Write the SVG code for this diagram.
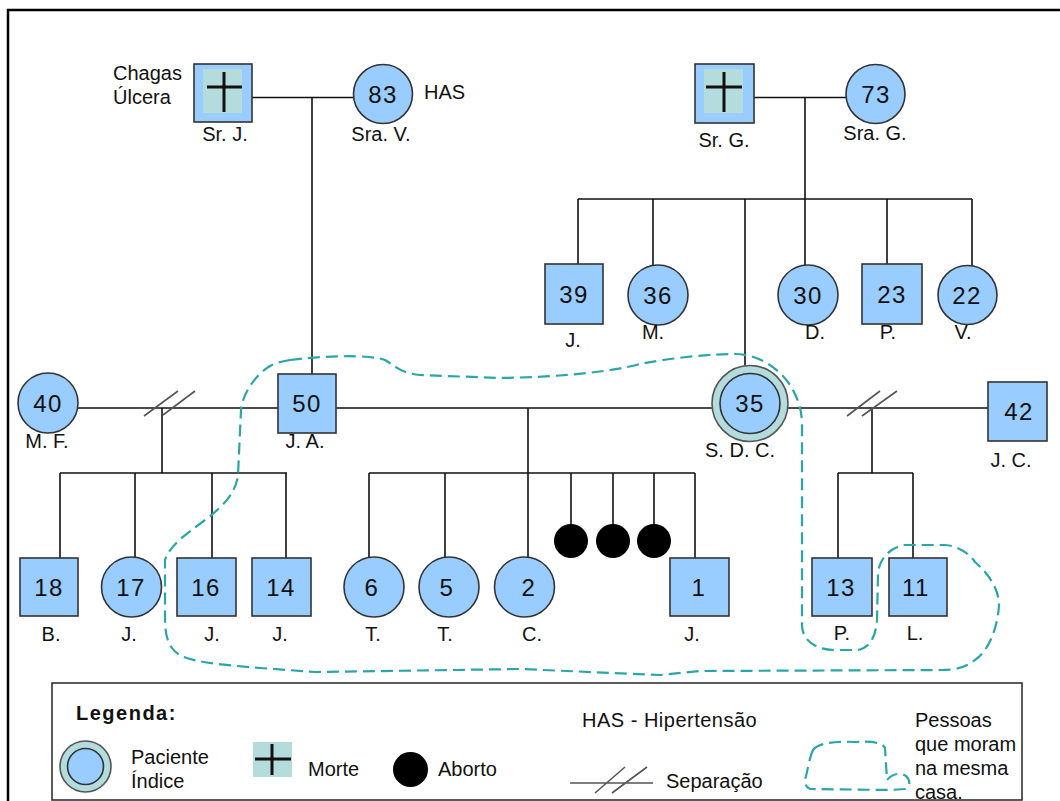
<svg xmlns="http://www.w3.org/2000/svg" width="1060" height="801" viewBox="0 0 1060 801">
<defs>
<style>
.ln{stroke:#111;stroke-width:1.6;fill:none}
.sep{stroke:#555;stroke-width:1.6;fill:none}
.nd{fill:#99ccff;stroke:#333;stroke-width:1.6}
.teal{fill:#b4dcdc}
.ring{fill:#b4dcdc;stroke:#555;stroke-width:1.6}
.cross{stroke:#111;stroke-width:3;fill:none}
.ab{fill:#000}
.num{font-family:"Liberation Sans",Arial,sans-serif;font-size:24px;letter-spacing:1.5px;text-anchor:middle;fill:#111}
.lbl{font-family:"Liberation Sans",Arial,sans-serif;font-size:20px;text-anchor:middle;fill:#111}
.txt{font-family:"Liberation Sans",Arial,sans-serif;font-size:20px;fill:#111}
.dash{stroke:#2aa6a6;stroke-width:2.2;fill:none;stroke-dasharray:12 6}
</style>
</defs>
<rect x="0" y="0" width="1060" height="801" fill="#fff"/>
<path d="M8 802 V10 H1062" fill="none" stroke="#000" stroke-width="2.5"/>

<g id="connectors">
<path class="ln" d="M252 97.5 H354 M312 97.5 V374 M754 97.5 H846 M805 97.5 V265"/>
<path class="ln" d="M578 199 H972 M578 199 V264 M653 199 V266 M745 199 V365.5 M887 199 V264 M972 199 V266"/>
<path class="ln" d="M78 408 H278 M336 408 H712 M788 408 H988"/>
<path class="ln" d="M162 408 V473 M60 473 H287 M60 473 V558 M135 473 V557 M212 473 V558 M286 473 V558"/>
<path class="ln" d="M528 408 V557 M369 473 H695 M369 473 V557.6 M445 473 V557.3 M571 473 V524 M613 473 V524 M654 473 V524 M695 473 V558"/>
<path class="ln" d="M872 408 V473 M838 473 H913 M838 473 V558 M913 473 V558"/>
<path class="sep" d="M144 416 L178 391 M163 415 L195 391 M847 416 L880 391 M862 416 L897 391"/>
</g>

<g id="household">
<path class="dash" d="M290 360 C320 356 370 354 385 360 C395 366 400 373 420 375 L500 378 C560 377 610 372 640 364 C670 358 710 354 735 354 C760 354 780 370 790 385 C798 398 802 410 802 425 L802 625 C802 640 815 650 835 650 L858 650 C870 648 876 636 877 620 L878 575 C878 560 890 547 905 545 L945 545 C960 546 970 555 975 562 C990 575 999 590 999 605 C998 625 990 650 975 660 C965 668 955 670 940 670 L700 671 L660 675 L520 669 L315 672 L260 668 C200 663 180 660 172 648 C166 640 165 630 165 615 L165 560 C170 545 185 535 205 520 C225 505 236 492 238 475 L241 410 C242 395 255 375 270 366 C278 362 284 361 290 360 Z"/>
</g>

<g id="sr-j">
<rect class="nd" x="194" y="64" width="58" height="58"/>
<rect class="teal" x="203" y="69" width="39" height="44"/>
<path class="cross" d="M224 72 V112 M207 87 H242"/>
<text class="lbl" x="225" y="141">Sr. J.</text>
<text class="txt" x="113" y="80">Chagas</text>
<text class="txt" x="113" y="104">Úlcera</text>
</g>
<g id="sra-v">
<circle class="nd" cx="383" cy="94" r="29.5"/>
<text class="num" x="383" y="103">83</text>
<text class="lbl" x="381" y="141">Sra. V.</text>
<text class="txt" x="424" y="99">HAS</text>
</g>
<g id="sr-g">
<rect class="nd" x="695" y="64" width="59" height="59"/>
<rect class="teal" x="704" y="69" width="39" height="44"/>
<path class="cross" d="M724 72 V112 M706 87 H742"/>
<text class="lbl" x="724" y="147">Sr. G.</text>
</g>
<g id="sra-g">
<circle class="nd" cx="875.5" cy="94" r="29.5"/>
<text class="num" x="876" y="103">73</text>
<text class="lbl" x="875" y="140">Sra. G.</text>
</g>

<g id="j39">
<rect class="nd" x="545" y="264" width="58" height="60"/>
<text class="num" x="574" y="303">39</text>
<text class="lbl" x="573" y="347">J.</text>
</g>
<g id="m36">
<circle class="nd" cx="658" cy="295" r="30"/>
<text class="num" x="658" y="304">36</text>
<text class="lbl" x="653" y="339">M.</text>
</g>
<g id="d30">
<circle class="nd" cx="808" cy="295" r="30"/>
<text class="num" x="808" y="304">30</text>
<text class="lbl" x="815" y="339">D.</text>
</g>
<g id="p23">
<rect class="nd" x="862" y="264" width="60" height="60"/>
<text class="num" x="892" y="303">23</text>
<text class="lbl" x="888" y="339">P.</text>
</g>
<g id="v22">
<circle class="nd" cx="967.5" cy="295" r="29.5"/>
<text class="num" x="967" y="304">22</text>
<text class="lbl" x="963" y="339">V.</text>
</g>

<g id="mf40">
<circle class="nd" cx="48" cy="403" r="30"/>
<text class="num" x="48" y="412">40</text>
<text class="lbl" x="47" y="448">M. F.</text>
</g>
<g id="ja50">
<rect class="nd" x="278" y="374" width="58" height="59"/>
<text class="num" x="307" y="412">50</text>
<text class="lbl" x="305" y="448">J. A.</text>
</g>
<g id="sdc35">
<circle class="ring" cx="750" cy="403.5" r="38"/>
<circle class="nd" cx="750" cy="403.5" r="30"/>
<text class="num" x="750" y="412">35</text>
<text class="lbl" x="740" y="457">S. D. C.</text>
</g>
<g id="jc42">
<rect class="nd" x="988" y="382" width="59" height="59"/>
<text class="num" x="1019" y="420">42</text>
<text class="lbl" x="1011" y="467">J. C.</text>
</g>

<g id="b18">
<rect class="nd" x="20" y="558" width="58" height="58"/>
<text class="num" x="49" y="596">18</text>
<text class="lbl" x="51" y="641">B.</text>
</g>
<g id="j17">
<circle class="nd" cx="131.5" cy="587" r="30"/>
<text class="num" x="131" y="596">17</text>
<text class="lbl" x="129" y="641">J.</text>
</g>
<g id="j16">
<rect class="nd" x="177" y="558" width="59" height="58"/>
<text class="num" x="206" y="596">16</text>
<text class="lbl" x="212" y="641">J.</text>
</g>
<g id="j14">
<rect class="nd" x="252" y="558" width="59" height="58"/>
<text class="num" x="281" y="596">14</text>
<text class="lbl" x="280" y="641">J.</text>
</g>
<g id="t6">
<circle class="nd" cx="374" cy="587" r="30"/>
<text class="num" x="372" y="596">6</text>
<text class="lbl" x="373" y="641">T.</text>
</g>
<g id="t5">
<circle class="nd" cx="449" cy="587" r="30"/>
<text class="num" x="447" y="596">5</text>
<text class="lbl" x="445" y="641">T.</text>
</g>
<g id="c2">
<circle class="nd" cx="524.5" cy="587" r="30"/>
<text class="num" x="529" y="596">2</text>
<text class="lbl" x="532" y="641">C.</text>
</g>
<g id="abortos">
<circle class="ab" cx="571" cy="541" r="17"/>
<circle class="ab" cx="613" cy="541" r="17"/>
<circle class="ab" cx="654" cy="541" r="17"/>
</g>
<g id="j1">
<rect class="nd" x="670" y="558" width="59" height="58"/>
<text class="num" x="699" y="596">1</text>
<text class="lbl" x="692" y="641">J.</text>
</g>
<g id="p13">
<rect class="nd" x="812" y="558" width="60" height="58"/>
<text class="num" x="841" y="596">13</text>
<text class="lbl" x="842" y="640">P.</text>
</g>
<g id="l11">
<rect class="nd" x="889" y="558" width="58" height="58"/>
<text class="num" x="916" y="596">11</text>
<text class="lbl" x="915" y="640">L.</text>
</g>

<g id="legend">
<rect x="52" y="683" width="970" height="117" fill="#fff" stroke="#333" stroke-width="1.6"/>
<text class="txt" x="76" y="720" font-weight="bold" font-size="21" letter-spacing="1.5">Legenda:</text>
<circle class="ring" cx="85.5" cy="766.5" r="25.5"/>
<circle class="nd" cx="85.5" cy="766.5" r="18"/>
<text class="txt" x="131" y="764">Paciente</text>
<text class="txt" x="131" y="788">Índice</text>
<rect class="teal" x="253" y="742" width="39" height="35"/>
<path class="cross" d="M272 744 V775 M255 759 H291"/>
<text class="txt" x="308" y="776">Morte</text>
<circle class="ab" cx="410.5" cy="769.5" r="17.5"/>
<text class="txt" x="438" y="776">Aborto</text>
<text class="txt" x="582" y="727" letter-spacing="0.5">HAS - Hipertensão</text>
<path class="sep" d="M570 783 H653 M595 793 L625 767 M612 793 L647 767"/>
<text class="txt" x="666" y="788">Separação</text>
<path class="dash" d="M813 750 C818 743 835 741 855 742 C870 741 882 742 885 748 L887 780 C892 774 900 772 906 776 C911 781 910 787 905 789 L890 790 L810 789 C805 787 804 782 806 776 C808 768 810 756 813 750 Z" stroke-dasharray="10 6"/>
<text class="txt" x="915" y="727">Pessoas</text>
<text class="txt" x="915" y="751">que moram</text>
<text class="txt" x="915" y="775">na mesma</text>
<text class="txt" x="915" y="799">casa.</text>
</g>
</svg>
